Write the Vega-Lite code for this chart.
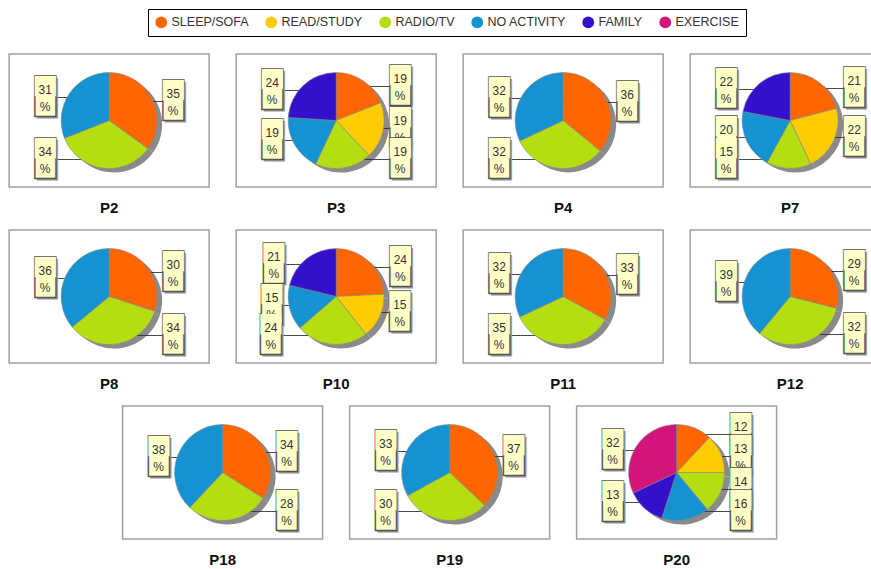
{
  "$schema": "https://vega.github.io/schema/vega-lite/v6.json",
  "background": "white",
  "padding": {"left": 8, "top": 8, "right": 0, "bottom": 0},
  "datasets": {
    "top": [
      {"p": "P2", "activity": "SLEEP/SOFA", "pct": 35},
      {"p": "P2", "activity": "RADIO/TV", "pct": 34},
      {"p": "P2", "activity": "NO ACTIVITY", "pct": 31},
      {"p": "P3", "activity": "SLEEP/SOFA", "pct": 19},
      {"p": "P3", "activity": "READ/STUDY", "pct": 19},
      {"p": "P3", "activity": "RADIO/TV", "pct": 19},
      {"p": "P3", "activity": "NO ACTIVITY", "pct": 19},
      {"p": "P3", "activity": "FAMILY", "pct": 24},
      {"p": "P4", "activity": "SLEEP/SOFA", "pct": 36},
      {"p": "P4", "activity": "RADIO/TV", "pct": 32},
      {"p": "P4", "activity": "NO ACTIVITY", "pct": 32},
      {"p": "P7", "activity": "SLEEP/SOFA", "pct": 21},
      {"p": "P7", "activity": "READ/STUDY", "pct": 22},
      {"p": "P7", "activity": "RADIO/TV", "pct": 15},
      {"p": "P7", "activity": "NO ACTIVITY", "pct": 20},
      {"p": "P7", "activity": "FAMILY", "pct": 22},
      {"p": "P8", "activity": "SLEEP/SOFA", "pct": 30},
      {"p": "P8", "activity": "RADIO/TV", "pct": 34},
      {"p": "P8", "activity": "NO ACTIVITY", "pct": 36},
      {"p": "P10", "activity": "SLEEP/SOFA", "pct": 24},
      {"p": "P10", "activity": "READ/STUDY", "pct": 15},
      {"p": "P10", "activity": "RADIO/TV", "pct": 24},
      {"p": "P10", "activity": "NO ACTIVITY", "pct": 15},
      {"p": "P10", "activity": "FAMILY", "pct": 21},
      {"p": "P11", "activity": "SLEEP/SOFA", "pct": 33},
      {"p": "P11", "activity": "RADIO/TV", "pct": 35},
      {"p": "P11", "activity": "NO ACTIVITY", "pct": 32},
      {"p": "P12", "activity": "SLEEP/SOFA", "pct": 29},
      {"p": "P12", "activity": "RADIO/TV", "pct": 32},
      {"p": "P12", "activity": "NO ACTIVITY", "pct": 39}
    ],
    "bottom": [
      {"p": "P18", "activity": "SLEEP/SOFA", "pct": 34},
      {"p": "P18", "activity": "RADIO/TV", "pct": 28},
      {"p": "P18", "activity": "NO ACTIVITY", "pct": 38},
      {"p": "P19", "activity": "SLEEP/SOFA", "pct": 37},
      {"p": "P19", "activity": "RADIO/TV", "pct": 30},
      {"p": "P19", "activity": "NO ACTIVITY", "pct": 33},
      {"p": "P20", "activity": "SLEEP/SOFA", "pct": 12},
      {"p": "P20", "activity": "READ/STUDY", "pct": 13},
      {"p": "P20", "activity": "RADIO/TV", "pct": 14},
      {"p": "P20", "activity": "NO ACTIVITY", "pct": 16},
      {"p": "P20", "activity": "FAMILY", "pct": 13},
      {"p": "P20", "activity": "EXERCISE", "pct": 32}
    ]
  },
  "vconcat": [
    {
      "data": {"name": "top"},
      "facet": {"field": "p", "type": "nominal", "title": null,
        "sort": ["P2", "P3", "P4", "P7", "P8", "P10", "P11", "P12"],
        "header": {"labelOrient": "bottom", "labelFontSize": 15, "labelFontWeight": "bold", "labelFont": "Liberation Sans", "labelColor": "#111", "labelPadding": 14}},
      "columns": 4,
      "spacing": {"row": 12, "column": 25},
      "spec": {
        "width": 200, "height": 133,
        "layer": [
          {"mark": {"type": "arc", "outerRadius": 48, "color": "#8a8a8a"},
           "encoding": {
             "x": {"datum": 0.525, "type": "quantitative", "scale": {"domain": [0, 1]}, "axis": null},
             "y": {"datum": 0.47, "type": "quantitative", "scale": {"domain": [0, 1]}, "axis": null},
             "theta": {"field": "pct", "type": "quantitative", "stack": true}}},
          {"mark": {"type": "text", "radius": 40, "text": "──────────", "font": "DejaVu Sans Mono", "fontSize": 10, "color": "#333", "baseline": "middle",
             "align": {"expr": "(datum.pct_start+datum.pct_end)/2 < 50 ? 'right' : 'left'"},
             "dx": {"expr": "((datum.pct_start+datum.pct_end)/2 < 50 ? 54 : -54) - 40*sin(PI*(datum.pct_start+datum.pct_end)/100)"}},
           "encoding": {"theta": {"field": "pct", "type": "quantitative", "stack": true}, "detail": {"field": "activity"}, "order": {"field": "activity", "sort": "descending"}}},
          {"mark": {"type": "arc", "outerRadius": 48, "stroke": "#8a8a8a", "strokeWidth": 0.6},
           "encoding": {
             "theta": {"field": "pct", "type": "quantitative", "stack": true},
             "color": {"field": "activity", "type": "nominal",
               "scale": {"domain": ["SLEEP/SOFA", "READ/STUDY", "RADIO/TV", "NO ACTIVITY", "FAMILY", "EXERCISE"], "range": ["#ff6600", "#ffcc00", "#b5de10", "#1492d2", "#3311cc", "#d2147c"]},
               "legend": {"orient": "none", "direction": "horizontal", "legendX": 139, "legendY": -45, "title": null, "symbolType": "circle", "symbolSize": 140, "symbolStrokeWidth": 0, "labelFontSize": 12.5, "labelFont": "Liberation Sans", "labelColor": "#333", "labelOffset": 4, "columnPadding": 16, "padding": 7, "strokeColor": "#000", "fillColor": "white"}},
             "order": {"field": "activity", "sort": "descending"}}},
          {"mark": {"type": "text", "radius": 40, "text": "█", "font": "DejaVu Sans Mono", "fontSize": 34, "color": "#999", "dy": 2, "baseline": "middle", "align": "center", "clip": true,
             "dx": {"expr": "((datum.pct_start+datum.pct_end)/2 < 50 ? 66 : -62) - 40*sin(PI*(datum.pct_start+datum.pct_end)/100)"}},
           "encoding": {"theta": {"field": "pct", "type": "quantitative", "stack": true}, "detail": {"field": "activity"}, "order": {"field": "activity", "sort": "descending"}}},
          {"mark": {"type": "text", "radius": 40, "text": "█", "font": "DejaVu Sans Mono", "fontSize": 34, "color": "#ffffc8", "stroke": "#555", "strokeWidth": 1.4, "baseline": "middle", "align": "center", "clip": true,
             "dx": {"expr": "((datum.pct_start+datum.pct_end)/2 < 50 ? 64 : -64) - 40*sin(PI*(datum.pct_start+datum.pct_end)/100)"}},
           "encoding": {"theta": {"field": "pct", "type": "quantitative", "stack": true}, "detail": {"field": "activity"}, "order": {"field": "activity", "sort": "descending"}}},
          {"mark": {"type": "text", "radius": 40, "font": "Liberation Sans", "fontSize": 12, "color": "#333", "dy": 9, "text": "%", "baseline": "middle", "align": "center", "clip": true,
             "dx": {"expr": "((datum.pct_start+datum.pct_end)/2 < 50 ? 64 : -64) - 40*sin(PI*(datum.pct_start+datum.pct_end)/100)"}},
           "encoding": {"theta": {"field": "pct", "type": "quantitative", "stack": true}, "detail": {"field": "activity"}, "order": {"field": "activity", "sort": "descending"}}},
          {"mark": {"type": "text", "radius": 40, "text": "▀", "font": "DejaVu Sans Mono", "fontSize": 34, "color": "#ffffc8", "baseline": "middle", "align": "center", "clip": true,
             "dx": {"expr": "((datum.pct_start+datum.pct_end)/2 < 50 ? 64 : -64) - 40*sin(PI*(datum.pct_start+datum.pct_end)/100)"}},
           "encoding": {"theta": {"field": "pct", "type": "quantitative", "stack": true}, "detail": {"field": "activity"}, "order": {"field": "activity", "sort": "descending"}}},
          {"mark": {"type": "text", "radius": 40, "font": "Liberation Sans", "fontSize": 12, "color": "#333", "dy": -8, "baseline": "middle", "align": "center", "clip": true,
             "dx": {"expr": "((datum.pct_start+datum.pct_end)/2 < 50 ? 64 : -64) - 40*sin(PI*(datum.pct_start+datum.pct_end)/100)"}},
           "encoding": {"theta": {"field": "pct", "type": "quantitative", "stack": true}, "text": {"field": "pct"}, "detail": {"field": "activity"}, "order": {"field": "activity", "sort": "descending"}}}
        ]
      }
    },
    {
      "data": {"name": "bottom"},
      "facet": {"field": "p", "type": "nominal", "title": null,
        "sort": ["P18", "P19", "P20"],
        "header": {"labelOrient": "bottom", "labelFontSize": 15, "labelFontWeight": "bold", "labelFont": "Liberation Sans", "labelColor": "#111", "labelPadding": 14}},
      "columns": 3,
      "spacing": {"row": 12, "column": 25},
      "spec": {
        "width": 200, "height": 133,
        "layer": [
          {"mark": {"type": "arc", "outerRadius": 48, "color": "#8a8a8a"},
           "encoding": {
             "x": {"datum": 0.525, "type": "quantitative", "scale": {"domain": [0, 1]}, "axis": null},
             "y": {"datum": 0.47, "type": "quantitative", "scale": {"domain": [0, 1]}, "axis": null},
             "theta": {"field": "pct", "type": "quantitative", "stack": true}}},
          {"mark": {"type": "text", "radius": 40, "text": "──────────", "font": "DejaVu Sans Mono", "fontSize": 10, "color": "#333", "baseline": "middle",
             "align": {"expr": "(datum.pct_start+datum.pct_end)/2 < 50 ? 'right' : 'left'"},
             "dx": {"expr": "((datum.pct_start+datum.pct_end)/2 < 50 ? 54 : -54) - 40*sin(PI*(datum.pct_start+datum.pct_end)/100)"}},
           "encoding": {"theta": {"field": "pct", "type": "quantitative", "stack": true}, "detail": {"field": "activity"}, "order": {"field": "activity", "sort": "descending"}}},
          {"mark": {"type": "arc", "outerRadius": 48, "stroke": "#8a8a8a", "strokeWidth": 0.6},
           "encoding": {
             "theta": {"field": "pct", "type": "quantitative", "stack": true},
             "color": {"field": "activity", "type": "nominal",
               "scale": {"domain": ["SLEEP/SOFA", "READ/STUDY", "RADIO/TV", "NO ACTIVITY", "FAMILY", "EXERCISE"], "range": ["#ff6600", "#ffcc00", "#b5de10", "#1492d2", "#3311cc", "#d2147c"]}},
             "order": {"field": "activity", "sort": "descending"}}},
          {"mark": {"type": "text", "radius": 40, "text": "█", "font": "DejaVu Sans Mono", "fontSize": 34, "color": "#999", "dy": 2, "baseline": "middle", "align": "center", "clip": true,
             "dx": {"expr": "((datum.pct_start+datum.pct_end)/2 < 50 ? 66 : -62) - 40*sin(PI*(datum.pct_start+datum.pct_end)/100)"}},
           "encoding": {"theta": {"field": "pct", "type": "quantitative", "stack": true}, "detail": {"field": "activity"}, "order": {"field": "activity", "sort": "descending"}}},
          {"mark": {"type": "text", "radius": 40, "text": "█", "font": "DejaVu Sans Mono", "fontSize": 34, "color": "#ffffc8", "stroke": "#555", "strokeWidth": 1.4, "baseline": "middle", "align": "center", "clip": true,
             "dx": {"expr": "((datum.pct_start+datum.pct_end)/2 < 50 ? 64 : -64) - 40*sin(PI*(datum.pct_start+datum.pct_end)/100)"}},
           "encoding": {"theta": {"field": "pct", "type": "quantitative", "stack": true}, "detail": {"field": "activity"}, "order": {"field": "activity", "sort": "descending"}}},
          {"mark": {"type": "text", "radius": 40, "font": "Liberation Sans", "fontSize": 12, "color": "#333", "dy": 9, "text": "%", "baseline": "middle", "align": "center", "clip": true,
             "dx": {"expr": "((datum.pct_start+datum.pct_end)/2 < 50 ? 64 : -64) - 40*sin(PI*(datum.pct_start+datum.pct_end)/100)"}},
           "encoding": {"theta": {"field": "pct", "type": "quantitative", "stack": true}, "detail": {"field": "activity"}, "order": {"field": "activity", "sort": "descending"}}},
          {"mark": {"type": "text", "radius": 40, "text": "▀", "font": "DejaVu Sans Mono", "fontSize": 34, "color": "#ffffc8", "baseline": "middle", "align": "center", "clip": true,
             "dx": {"expr": "((datum.pct_start+datum.pct_end)/2 < 50 ? 64 : -64) - 40*sin(PI*(datum.pct_start+datum.pct_end)/100)"}},
           "encoding": {"theta": {"field": "pct", "type": "quantitative", "stack": true}, "detail": {"field": "activity"}, "order": {"field": "activity", "sort": "descending"}}},
          {"mark": {"type": "text", "radius": 40, "font": "Liberation Sans", "fontSize": 12, "color": "#333", "dy": -8, "baseline": "middle", "align": "center", "clip": true,
             "dx": {"expr": "((datum.pct_start+datum.pct_end)/2 < 50 ? 64 : -64) - 40*sin(PI*(datum.pct_start+datum.pct_end)/100)"}},
           "encoding": {"theta": {"field": "pct", "type": "quantitative", "stack": true}, "text": {"field": "pct"}, "detail": {"field": "activity"}, "order": {"field": "activity", "sort": "descending"}}}
        ]
      }
    }
  ],
  "center": true,
  "spacing": 12,
  "resolve": {"scale": {"color": "shared"}},
  "config": {
    "view": {"stroke": "#a0a0a0", "strokeWidth": 1.5},
    "style": {"cell": {"stroke": "#a0a0a0", "strokeWidth": 1.5}},
    "font": "Liberation Sans"
  }
}
